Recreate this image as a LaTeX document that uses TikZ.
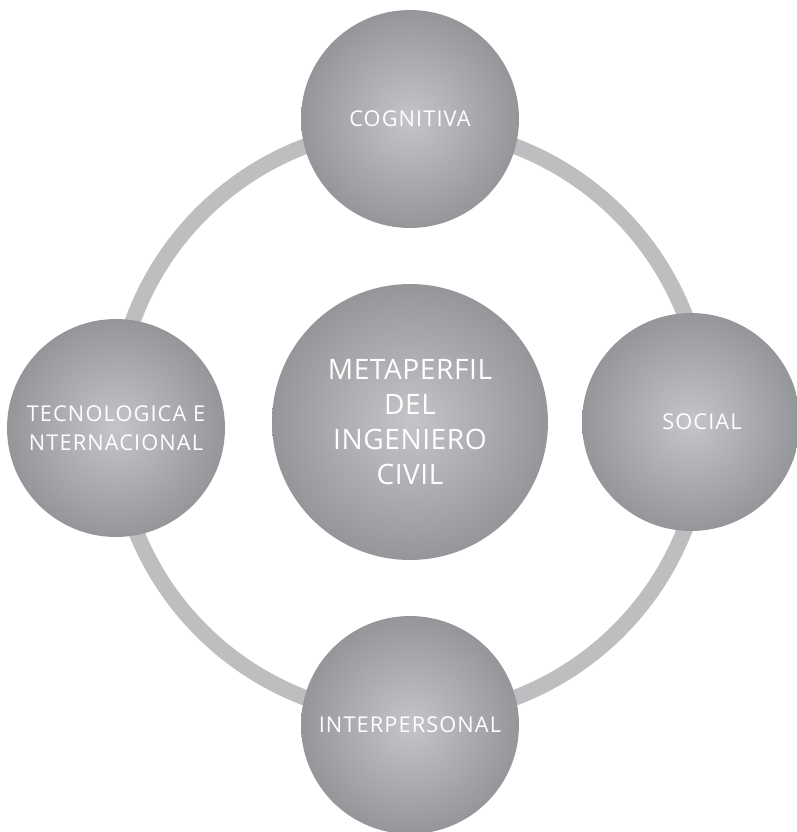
\documentclass[tikz,border=0pt]{standalone}
\usepackage{fontspec}
\setmainfont{Open Sans}
\newfontfamily\smallballfont[LetterSpace=5]{Open Sans}
\newfontfamily\bigballfont[LetterSpace=2]{Open Sans}
\definecolor{balllight}{RGB}{196,197,200}
\definecolor{balldark}{RGB}{104,105,109}
\definecolor{ringgray}{RGB}{189,190,192}
\pgfdeclareradialshading{greyball}{\pgfpoint{0bp}{0bp}}{%
  color(0bp)=(balllight); color(49bp)=(balldark); color(50bp)=(balldark)}
\tikzset{
  ball/.style = {
    circle, shading=greyball, text=white, inner sep=0pt,
    minimum size=4.36cm, align=center,
    font=\smallballfont\fontsize{12.4}{16.5}\selectfont
  },
  bigball/.style = {
    ball, minimum size=5.52cm,
    font=\bigballfont\fontsize{16}{20}\selectfont
  },
  ring/.style = {draw=ringgray, line width=9pt}
}

\begin{document}
\begin{tikzpicture}[x=0.02cm,y=-0.02cm]
  \useasboundingbox (0,0) rectangle (796,832);
  \coordinate (hub) at (410,422);
  \draw[ring] (hub) circle (5.9cm);
  \node[bigball] (meta) at (hub) {METAPERFIL\\DEL\\INGENIERO\\CIVIL};
  \foreach \name/\pos/\txt in {cog/{410,119}/COGNITIVA,
      soc/{691,422}/{\hspace*{0.44cm}SOCIAL}, inter/{410,725}/INTERPERSONAL,
      tec/{116,428}/{TECNOLOGICA E\\NTERNACIONAL}} {%
    \node[ball] (\name) at (\pos) {\txt};
  }
\end{tikzpicture}
\end{document}
